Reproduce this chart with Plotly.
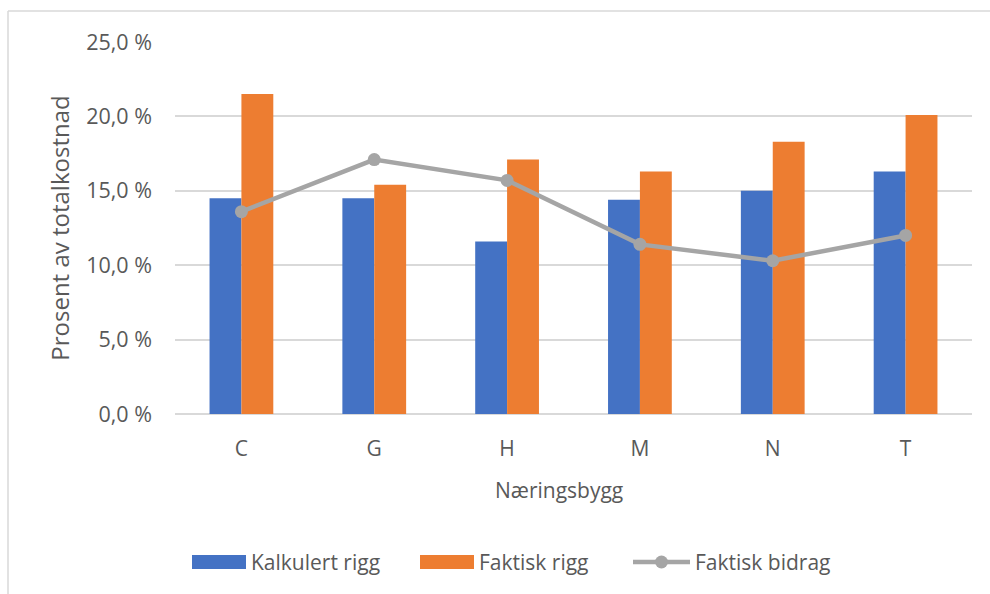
import plotly.graph_objects as go

# Næringsbygg categories and percentage of total cost
kategorier = ["C", "G", "H", "M", "N", "T"]
kalkulert_rigg = [14.5, 14.5, 11.6, 14.4, 15.0, 16.3]
faktisk_rigg = [21.5, 15.4, 17.1, 16.3, 18.3, 20.1]
faktisk_bidrag = [13.6, 17.1, 15.7, 11.4, 10.3, 12.0]
y_ticks = [0, 5, 10, 15, 20, 25]
y_tick_text = [f"{v:.1f}".replace(".", ",") + " %" for v in y_ticks]

FONT = "Open Sans, Liberation Sans, sans-serif"
TEXT = "#595959"
GRID = "#d9d9d9"
BLUE, ORANGE, GRAY = "#4472c4", "#ed7d31", "#a5a5a5"

fig = go.Figure()
fig.add_trace(go.Bar(x=kategorier, y=kalkulert_rigg, name="Kalkulert rigg",
                     marker=dict(color=BLUE, line=dict(width=0))))
fig.add_trace(go.Bar(x=kategorier, y=faktisk_rigg, name="Faktisk rigg",
                     marker=dict(color=ORANGE, line=dict(width=0))))
fig.add_trace(go.Scatter(x=kategorier, y=faktisk_bidrag, name="Faktisk bidrag",
                         mode="lines+markers",
                         line=dict(color=GRAY, width=4.5),
                         marker=dict(color=GRAY, size=13)))

# Plot area: 175..972 px horizontally, 42..414 px vertically
L, R, T, B = 175, 18, 42, 180
W, H = 990, 594
pw, ph = W - L - R, H - T - B

def px_x(x):
    return (x - L) / pw

def px_y(y):
    return (H - B - y) / ph

shapes = []
annotations = []

# Chart frame (top and left edges visible)
shapes.append(dict(type="line", xref="paper", yref="paper",
                   x0=px_x(8), x1=px_x(1000), y0=px_y(11), y1=px_y(11),
                   line=dict(color=GRID, width=1.5)))
shapes.append(dict(type="line", xref="paper", yref="paper",
                   x0=px_x(8), x1=px_x(8), y0=px_y(11), y1=px_y(600),
                   line=dict(color=GRID, width=1.5)))

# X-axis title, centred on the chart area
annotations.append(dict(text="Næringsbygg", xref="paper", yref="paper",
                        x=px_x(559), y=px_y(490), xanchor="center",
                        yanchor="middle", showarrow=False,
                        font=dict(size=21, color=TEXT, family=FONT)))

# Legend row below the axis title
LEG_Y = 562
legend_items = [
    ("bar", BLUE, "Kalkulert rigg", 192, 246),
    ("bar", ORANGE, "Faktisk rigg", 420, 474),
    ("line", GRAY, "Faktisk bidrag", 633, 690),
]
for kind, color, label, x0, x1 in legend_items:
    if kind == "bar":
        shapes.append(dict(type="rect", xref="paper", yref="paper",
                           x0=px_x(x0), x1=px_x(x1),
                           y0=px_y(LEG_Y - 7), y1=px_y(LEG_Y + 7),
                           fillcolor=color, line=dict(width=0)))
    else:
        shapes.append(dict(type="line", xref="paper", yref="paper",
                           x0=px_x(x0), x1=px_x(x1),
                           y0=px_y(LEG_Y), y1=px_y(LEG_Y),
                           line=dict(color=color, width=4.5)))
        cx = (x0 + x1) / 2
        shapes.append(dict(type="circle", xref="paper", yref="paper",
                           x0=px_x(cx - 6.5), x1=px_x(cx + 6.5),
                           y0=px_y(LEG_Y - 6.5), y1=px_y(LEG_Y + 6.5),
                           fillcolor=color, line=dict(width=0)))
    annotations.append(dict(text=label, xref="paper", yref="paper",
                            x=px_x(x1 + 3), y=px_y(LEG_Y),
                            xanchor="left", yanchor="middle", showarrow=False,
                            font=dict(size=21, color=TEXT, family=FONT)))

fig.update_layout(
    width=W, height=H,
    margin=dict(l=L, r=R, t=T, b=B, autoexpand=False),
    paper_bgcolor="white", plot_bgcolor="white",
    font=dict(family=FONT, color=TEXT, size=21),
    barmode="group", bargap=0.52, bargroupgap=0,
    showlegend=False,
    shapes=shapes, annotations=annotations,
    xaxis=dict(showgrid=False, showline=False, ticks="",
               ticklabelstandoff=20,
               tickfont=dict(size=21, color=TEXT)),
    yaxis=dict(range=[0, 25], tickvals=y_ticks, ticktext=y_tick_text,
               showgrid=True, gridcolor=GRID, gridwidth=1.5,
               zeroline=True, zerolinecolor=GRID, zerolinewidth=1.5,
               showline=False, ticks="", ticklabelstandoff=22,
               tickfont=dict(size=21.5, color=TEXT),
               title=dict(text="Prosent av totalkostnad",
                          font=dict(size=24, color=TEXT), standoff=9)),
)

fig.write_html("out.html")
